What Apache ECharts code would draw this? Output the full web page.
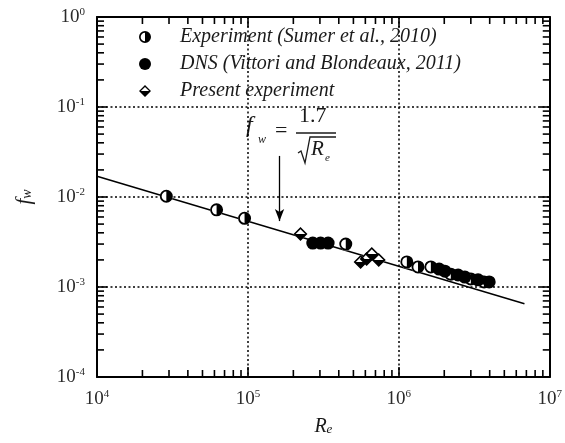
<!DOCTYPE html>
<html><head><meta charset="utf-8">
<script src="https://cdn.jsdelivr.net/npm/echarts@6/dist/echarts.min.js"></script>
<style>html,body{margin:0;padding:0;background:#fff}#c{width:565px;height:443px}</style>
</head><body><div id="c"></div>
<script>
// ---- data ----
const xMin = 1e4, xMax = 1e7, yMin = 1e-4, yMax = 1;
const minorMult = [2, 3, 4, 5, 6, 7, 8, 9];
const xDecades = [1e4, 1e5, 1e6];
const yDecades = [1e-4, 1e-3, 1e-2, 1e-1];

const sumerRe = [2.88e4, 6.2e4, 9.5e4, 4.45e5, 1.13e6, 1.34e6, 1.63e6, 2.21e6, 3.0e6, 3.67e6];
const sumerFw = [0.0102, 0.0072, 0.0058, 0.0030, 0.0019, 0.00167, 0.00167, 0.00139, 0.00123, 0.00114];

const dnsRe = [2.69e5, 3.03e5, 3.4e5, 1.85e6, 2.02e6, 2.47e6, 2.74e6, 3.35e6, 3.97e6];
const dnsFw = [0.00308, 0.00308, 0.00308, 0.00158, 0.0015, 0.00136, 0.00129, 0.0012, 0.00114];

const presentRe = [2.23e5, 5.58e5, 6.12e5, 6.62e5, 7.36e5];
const presentFw = [0.00389, 0.0019, 0.00205, 0.00233, 0.0020];

const lawRe = [1e4, 6.8e6];
const lawFw = [0.017, 6.5e-4];

const arrowRe = [1.62e5, 1.62e5];
const arrowFw = [0.0286, 0.0054];

const seriesNames = ['Experiment (Sumer et al., 2010)', 'DNS (Vittori and Blondeaux, 2011)', 'Present experiment'];

// ---- build ----
const zip = (a, b) => a.map((v, i) => [v, b[i]]);
const halfCircle = 'path://M10,0 A10,10 0 1 1 10,20 A10,10 0 1 1 10,0 Z M10,2.8 A7.2,7.2 0 0 0 10,17.2 Z';
const halfDiamond = 'path://M10,0 L20,10 L10,20 L0,10 Z M10,3.2 L3.2,10 L16.8,10 Z';
const SERIF = "'Liberation Serif','DejaVu Serif',serif";

const tickData = [];
xDecades.forEach(d => minorMult.forEach(m => tickData.push([d * m, yMin, 0])));
yDecades.forEach(d => minorMult.forEach(m => tickData.push([xMin, d * m, 1])));

function tickItem(params, api) {
  const axis = api.value(2);
  const len = 7;
  const st = { stroke: '#000', lineWidth: 1.6 };
  if (axis === 0) {
    const b = api.coord([api.value(0), yMin]);
    const t = api.coord([api.value(0), yMax]);
    return { type: 'group', children: [
      { type: 'line', shape: { x1: b[0], y1: b[1], x2: b[0], y2: b[1] - len }, style: st },
      { type: 'line', shape: { x1: t[0], y1: t[1], x2: t[0], y2: t[1] + len }, style: st }
    ]};
  } else {
    const l = api.coord([xMin, api.value(1)]);
    const r = api.coord([xMax, api.value(1)]);
    return { type: 'group', children: [
      { type: 'line', shape: { x1: l[0], y1: l[1], x2: l[0] + len, y2: l[1] }, style: st },
      { type: 'line', shape: { x1: r[0], y1: r[1], x2: r[0] - len, y2: r[1] }, style: st }
    ]};
  }
}

const powLabel = v => '{b|10}{s|' + Math.round(Math.log10(v)) + '}';
const labelRich = {
  b: { fontSize: 19, fontFamily: SERIF, color: '#2a2a2a' },
  s: { fontSize: 11, fontFamily: SERIF, color: '#2a2a2a', padding: [0, 0, 9, 0] }
};
const gridLine = { show: true, lineStyle: { color: '#000', width: 1.5, type: [2, 2.5] } };
const markStyle = { color: '#000', opacity: 1 };

const chart = echarts.init(document.getElementById('c'), null, { renderer: 'canvas' });
chart.setOption({
  animation: false,
  backgroundColor: '#fff',
  grid: { left: 97, right: 15, top: 17, bottom: 66 },
  legend: {
    orient: 'vertical', left: 139, top: 27, padding: 0, itemGap: 7,
    itemWidth: 12, itemHeight: 13,
    selectedMode: false,
    data: [
      { name: seriesNames[0], icon: halfCircle },
      { name: seriesNames[1], icon: 'circle' },
      { name: seriesNames[2], icon: halfDiamond }
    ],
    itemStyle: { opacity: 1 },
    textStyle: { fontFamily: SERIF, fontStyle: 'italic', fontSize: 20, color: '#1a1a1a', lineHeight: 19, padding: [0, 0, 0, 24] }
  },
  xAxis: [
    { type: 'log', logBase: 10, min: xMin, max: xMax, position: 'bottom',
      axisLine: { lineStyle: { color: '#000', width: 2 } },
      axisTick: { inside: true, length: 10, lineStyle: { color: '#000', width: 1.6 } },
      axisLabel: { formatter: powLabel, rich: labelRich, margin: 12 },
      splitLine: gridLine,
      name: '{i|R}{e|e}', nameLocation: 'middle', nameGap: 40,
      nameTextStyle: { rich: { i: { fontSize: 20, fontFamily: SERIF, fontStyle: 'italic', color: '#1a1a1a' }, e: { fontSize: 13, fontFamily: SERIF, fontStyle: 'italic', color: '#1a1a1a', padding: [0, 0, -6, 0] } } }
    },
    { type: 'log', logBase: 10, min: xMin, max: xMax, position: 'top',
      axisLine: { lineStyle: { color: '#000', width: 2 } },
      axisTick: { inside: true, length: 10, lineStyle: { color: '#000', width: 1.6 } },
      axisLabel: { show: false }, splitLine: { show: false } }
  ],
  yAxis: [
    { type: 'log', logBase: 10, min: yMin, max: yMax, position: 'left',
      axisLine: { lineStyle: { color: '#000', width: 2 } },
      axisTick: { inside: true, length: 10, lineStyle: { color: '#000', width: 1.6 } },
      axisLabel: { formatter: powLabel, rich: labelRich, margin: 12 },
      splitLine: gridLine,
      name: '{i|f}{w|w}', nameLocation: 'middle', nameGap: 62, nameRotate: 90,
      nameTextStyle: { rich: { i: { fontSize: 21, fontFamily: SERIF, fontStyle: 'italic', color: '#1a1a1a' }, w: { fontSize: 14, fontFamily: SERIF, fontStyle: 'italic', color: '#1a1a1a', padding: [0, 0, -6, 0] } } }
    },
    { type: 'log', logBase: 10, min: yMin, max: yMax, position: 'right',
      axisLine: { lineStyle: { color: '#000', width: 2 } },
      axisTick: { inside: true, length: 10, lineStyle: { color: '#000', width: 1.6 } },
      axisLabel: { show: false }, splitLine: { show: false } }
  ],
  series: [
    { type: 'custom', name: '_ticks', renderItem: tickItem, data: tickData, silent: true, z: 1, clip: false },
    { type: 'line', name: '_law', data: zip(lawRe, lawFw), symbol: 'none', z: 2,
      lineStyle: { color: '#000', width: 1.5 },
      markLine: {
        silent: true, symbol: ['none', 'arrow'], symbolSize: [7, 12],
        label: { show: false },
        lineStyle: { color: '#000', width: 1.3, type: 'solid' },
        data: [[{ coord: [arrowRe[0], arrowFw[0]] }, { coord: [arrowRe[1], arrowFw[1]] }]]
      }
    },
    { type: 'scatter', name: '_sumerBg', data: zip(sumerRe, sumerFw), symbol: 'circle', symbolSize: 13, z: 3, itemStyle: { color: '#fff', opacity: 1 } },
    { type: 'scatter', name: '_presBg', data: zip(presentRe, presentFw), symbol: 'diamond', symbolSize: 14, z: 3, itemStyle: { color: '#fff', opacity: 1 } },
    { type: 'scatter', name: seriesNames[0], data: zip(sumerRe, sumerFw), symbol: halfCircle, symbolSize: 13, z: 4, itemStyle: markStyle },
    { type: 'scatter', name: seriesNames[1], data: zip(dnsRe, dnsFw), symbol: 'circle', symbolSize: 13, z: 4, itemStyle: markStyle },
    { type: 'scatter', name: seriesNames[2], data: zip(presentRe, presentFw), symbol: halfDiamond, symbolSize: 14, z: 4, itemStyle: markStyle }
  ],
  graphic: [
    { type: 'text', left: 246, top: 114, style: { text: 'f', font: "italic 24px 'Liberation Serif', serif", fill: '#1a1a1a' } },
    { type: 'text', left: 258, top: 134, style: { text: 'w', font: "italic 12px 'Liberation Serif', serif", fill: '#1a1a1a' } },
    { type: 'text', left: 275, top: 120, style: { text: '=', font: "22px 'Liberation Serif', serif", fill: '#1a1a1a' } },
    { type: 'text', left: 299, top: 105, style: { text: '1.7', font: "22px 'Liberation Serif', serif", fill: '#1a1a1a' } },
    { type: 'line', shape: { x1: 296, y1: 133, x2: 336, y2: 133 }, style: { stroke: '#1a1a1a', lineWidth: 1.6 } },
    { type: 'polyline', shape: { points: [[298, 153], [301, 151], [305, 163], [310, 137], [336, 137]] }, style: { stroke: '#1a1a1a', lineWidth: 1.3, fill: null } },
    { type: 'text', left: 311, top: 139, style: { text: 'R', font: "italic 21px 'Liberation Serif', serif", fill: '#1a1a1a' } },
    { type: 'text', left: 325, top: 153, style: { text: 'e', font: "italic 11px 'Liberation Serif', serif", fill: '#1a1a1a' } }
  ]
});
</script></body></html>
